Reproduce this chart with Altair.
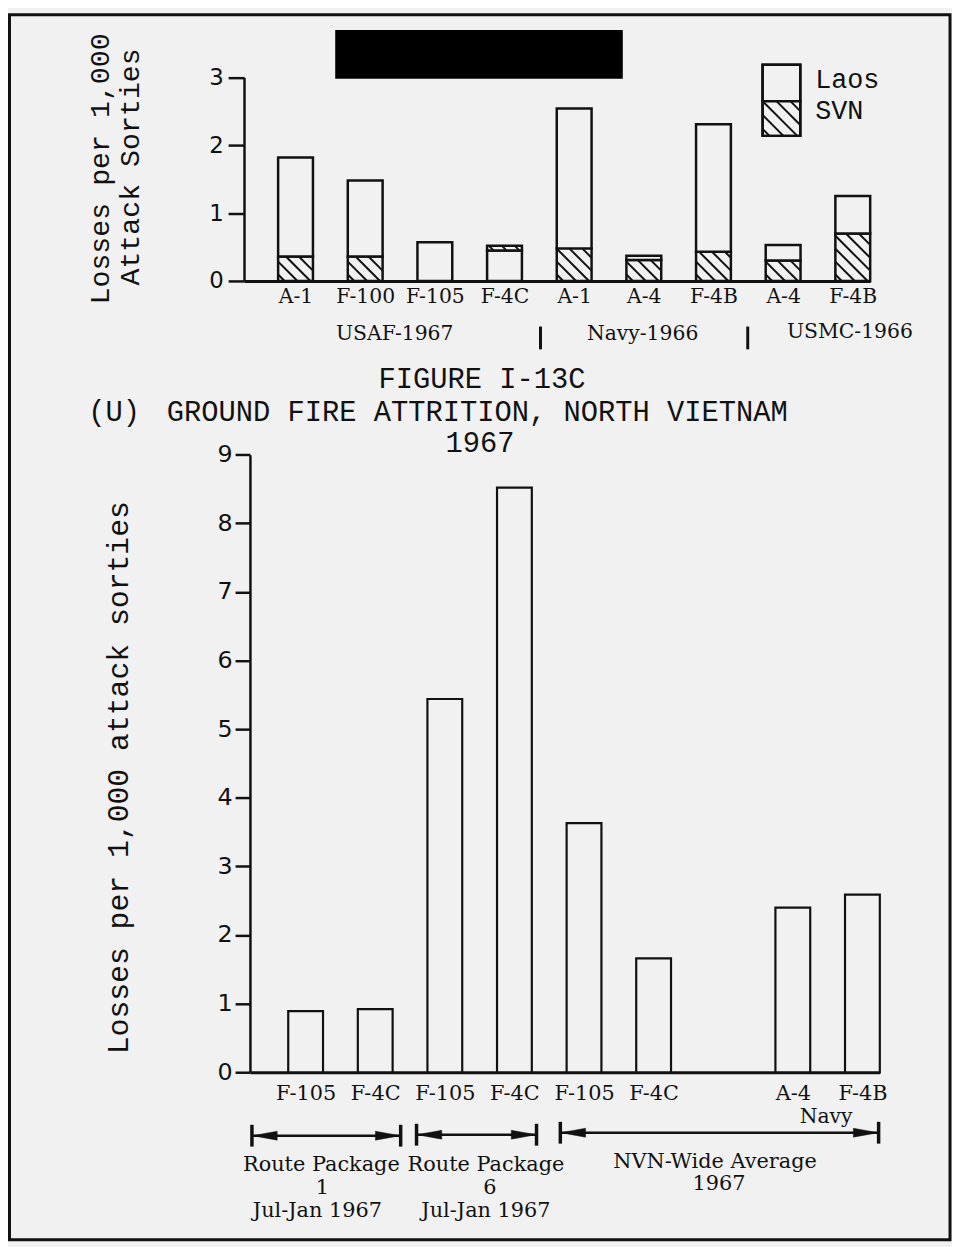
import json
import altair as alt
import pandas as pd

# ---------------- data ----------------
top_aircraft = ["A-1", "F-100", "F-105", "F-4C", "A-1", "A-4", "F-4B", "A-4", "F-4B"]
top_total = [1.82, 1.48, 0.57, 0.52, 2.54, 0.37, 2.31, 0.53, 1.25]
top_svn = [0.36, 0.36, 0.0, 0.07, 0.48, 0.31, 0.43, 0.30, 0.70]
top_svn_above = [False, False, False, True, False, False, False, False, False]
top_services = ["USAF-1967", "Navy-1966", "USMC-1966"]
top_series = ["Laos", "SVN"]

bottom_aircraft = ["F-105", "F-4C", "F-105", "F-4C", "F-105", "F-4C", "", "A-4", "F-4B"]
bottom_losses = [0.89, 0.92, 5.44, 8.52, 3.63, 1.66, None, 2.40, 2.59]
bottom_groups = [["Route Package", "1", "Jul-Jan 1967"],
                 ["Route Package", "6", "Jul-Jan 1967"],
                 ["NVN-Wide Average", "1967"]]

# ---------------- layout (chart coords = page coords - 8) ----------------
W, H = 952, 1239
BG = "#f1f1f1"
INK = "#111111"
MONO = "Liberation Mono"
SERIF = "DejaVu Serif"
SANS = "DejaVu Sans"
HALF = 0.25  # half bar width in index units

TOP_XD, TOP_XR = [-0.74, 8.25], [238, 869.5]
TOP_YD, TOP_YR = [0, 3], [270, 64.7]
BOT_XD, BOT_XR = [-0.8, 8.25], [244, 879.2]
BOT_YD, BOT_YR = [0, 9], [1068, 445.3]


def ppu(dom, rng):
    return abs(rng[1] - rng[0]) / (dom[1] - dom[0])


# ---------------- top chart data frames ----------------
rows = []
for i, (tot, svn, above) in enumerate(zip(top_total, top_svn, top_svn_above)):
    if above:
        rows.append(dict(idx=i, lo=0.0, hi=tot - svn, series=top_series[0]))
        rows.append(dict(idx=i, lo=tot - svn, hi=tot, series=top_series[1]))
    else:
        if svn > 0:
            rows.append(dict(idx=i, lo=0.0, hi=svn, series=top_series[1]))
        rows.append(dict(idx=i, lo=svn, hi=tot, series=top_series[0]))
top_df = pd.DataFrame(rows)


def hatch(x0, x1, y0, y1, px_x, px_y, spacing=13.0):
    """diagonal '\\' hatch lines clipped to a box, returned in data units"""
    w = (x1 - x0) * px_x
    h = (y1 - y0) * px_y
    segs = []
    k = spacing * 0.5
    while k < w + h:
        xa = max(0.0, k - h)
        xb = min(w, k)
        if xb > xa:
            segs.append(dict(xa=x0 + xa / px_x, ya=y0 + (k - xa) / px_y,
                             xb=x0 + xb / px_x, yb=y0 + (k - xb) / px_y))
        k += spacing
    return segs


tpx, tpy = ppu(TOP_XD, TOP_XR), ppu(TOP_YD, TOP_YR)
hrows = []
for r in rows:
    if r["series"] == top_series[1]:
        hrows += hatch(r["idx"] - HALF, r["idx"] + HALF, r["lo"], r["hi"], tpx, tpy)
top_hatch = pd.DataFrame(hrows)

bot_df = pd.DataFrame([dict(idx=i, v=v) for i, v in enumerate(bottom_losses) if v is not None])

# ---------------- scales / axes ----------------
def sc(d, r):
    return alt.Scale(domain=d, range=r, nice=False, zero=False)


top_xaxis = alt.Axis(orient="bottom", offset=TOP_YR[0] - H, values=list(range(len(top_aircraft))),
                     labelExpr=json.dumps(top_aircraft) + "[datum.value]", ticks=False, tickSize=0,
                     domainWidth=3, domainColor=INK, labelFont=SERIF, labelFontSize=20.5,
                     labelColor=INK, labelPadding=6, labelAngle=0, labelOverlap=False,
                     labelFlush=False, grid=False, title=None)
top_yaxis = alt.Axis(orient="left", offset=-TOP_XR[0], values=[0, 1, 2, 3], tickSize=16,
                     tickWidth=2.5, tickColor=INK, domainColor=INK, domainWidth=2.5,
                     labelFont=SANS, labelFontSize=23, labelColor=INK, labelPadding=5,
                     grid=False, title=None)
bot_vals = [i for i, v in enumerate(bottom_losses) if v is not None]
bot_xaxis = alt.Axis(orient="bottom", offset=BOT_YR[0] - H, values=bot_vals,
                     labelExpr=json.dumps(bottom_aircraft) + "[datum.value]", ticks=False, tickSize=0,
                     domainWidth=3, domainColor=INK, labelFont=SERIF, labelFontSize=21,
                     labelColor=INK, labelPadding=10, labelAngle=0, labelOverlap=False,
                     labelFlush=False, grid=False, title=None)
bot_yaxis = alt.Axis(orient="left", offset=-BOT_XR[0], values=list(range(10)), tickSize=15,
                     tickWidth=2.5, tickColor=INK, domainColor=INK, domainWidth=2.5,
                     labelFont=SANS, labelFontSize=24, labelColor=INK, labelPadding=3,
                     grid=False, title=None)

# ---------------- top chart ----------------
top_bars = alt.Chart(top_df).transform_calculate(
    x0=f"datum.idx - {HALF}", x1=f"datum.idx + {HALF}"
).mark_rect(fill=BG, stroke=INK, strokeWidth=2.5).encode(
    x=alt.X("x0:Q", scale=sc(TOP_XD, TOP_XR), axis=top_xaxis),
    x2="x1:Q",
    y=alt.Y("lo:Q", scale=sc(TOP_YD, TOP_YR), axis=top_yaxis),
    y2="hi:Q",
)
top_lines = alt.Chart(top_hatch).mark_rule(stroke=INK, strokeWidth=2).encode(
    x=alt.X("xa:Q", scale=sc(TOP_XD, TOP_XR), axis=None), x2="xb:Q",
    y=alt.Y("ya:Q", scale=sc(TOP_YD, TOP_YR), axis=None), y2="yb:Q",
)

# ---------------- bottom chart ----------------
bot_bars = alt.Chart(bot_df).transform_calculate(
    x0=f"datum.idx - {HALF}", x1=f"datum.idx + {HALF}"
).mark_rect(fill=BG, stroke=INK, strokeWidth=2.2).encode(
    x=alt.X("x0:Q", scale=sc(BOT_XD, BOT_XR), axis=bot_xaxis),
    x2="x1:Q",
    y=alt.Y("v:Q", scale=sc(BOT_YD, BOT_YR), axis=bot_yaxis),
    y2=alt.datum(0),
)

# ---------------- annotations ----------------
ONE = alt.Data(values=[{"k": 0}])


def txt(s, x, y, size, font, align="center", angle=0, weight="normal"):
    kw = dict(text=s, font=font, fontSize=size, align=align, baseline="middle",
              color=INK, fontWeight=weight)
    if angle:
        kw["angle"] = angle
    return alt.Chart(ONE).mark_text(**kw).encode(x=alt.value(x - 8), y=alt.value(y - 8))


def rule(x1, y1, x2, y2, w=3):
    return alt.Chart(ONE).mark_rule(stroke=INK, strokeWidth=w).encode(
        x=alt.value(x1 - 8), y=alt.value(y1 - 8), x2=alt.value(x2 - 8), y2=alt.value(y2 - 8))


def box(x1, y1, x2, y2, fill, w=2.5, stroke=INK):
    return alt.Chart(ONE).mark_rect(fill=fill, stroke=stroke, strokeWidth=w).encode(
        x=alt.value(x1 - 8), y=alt.value(y1 - 8), x2=alt.value(x2 - 8), y2=alt.value(y2 - 8))


ARROW = "M -1 0 L 1 -0.36 L 1 0.36 Z"
ARROW_R = "M 1 0 L -1 -0.36 L -1 0.36 Z"


def head(x, y, right):
    return alt.Chart(ONE).mark_point(shape=ARROW_R if right else ARROW, filled=True,
                                     fill=INK, stroke=INK, strokeWidth=0.5, opacity=1,
                                     size=620).encode(x=alt.value(x - 8), y=alt.value(y - 8))


def arrow(xl, xr, y):
    return [rule(xl, y, xr, y, 2.5), rule(xl, y - 11, xl, y + 11, 3.5), rule(xr, y - 11, xr, y + 11, 3.5),
            head(xl + 13, y, False), head(xr - 13, y, True)]


ann = []
# redaction block
ann.append(box(338, 25, 628, 74, "#000000", 0))
# top y title
ann.append(txt("Losses per 1,000", 101, 165, 28.5, MONO, angle=270))
ann.append(txt("Attack Sorties", 131, 163, 28.5, MONO, angle=270))
# legend
ann.append(box(769, 60, 807, 96.7, BG))
ann.append(box(769, 96.7, 807, 131.7, BG))
leg_h = hatch(769, 807, 0, 35, 1, 1, 14.0)
for s in leg_h:
    ann.append(rule(s["xa"], 131.7 - s["ya"], s["xb"], 131.7 - s["yb"], 2))
ann.append(box(769, 60, 807, 131.7, "transparent"))
ann.append(txt(top_series[0], 822, 75, 27, MONO, align="left"))
ann.append(txt(top_series[1], 822, 107, 27, MONO, align="left"))
# service group labels
ann.append(txt(top_services[0], 398, 332, 20.5, SERIF))
ann.append(rule(545, 324, 545, 347, 3))
ann.append(txt(top_services[1], 648, 332, 20.5, SERIF))
ann.append(rule(754, 324, 754, 347, 3))
ann.append(txt(top_services[2], 857, 330, 20.5, SERIF))
# figure title
ann.append(txt("FIGURE I-13C", 486, 377, 29, MONO))
ann.append(txt("(U)", 115, 410, 29, MONO))
ann.append(txt("GROUND FIRE ATTRITION, NORTH VIETNAM", 168, 410, 29, MONO, align="left"))
ann.append(txt("1967", 484, 442, 29, MONO))
# bottom y title
ann.append(txt("Losses per 1,000 attack sorties", 120, 779, 30, MONO, angle=270))
# bottom group arrows and labels
ann += arrow(254, 404, 1140)
ann += arrow(420, 541, 1139)
ann += arrow(565, 886, 1137)
ann.append(txt("Navy", 833, 1121, 20.5, SERIF))
ann.append(txt(bottom_groups[0][0], 324, 1170, 21, SERIF))
ann.append(txt(bottom_groups[0][1], 325, 1193, 21, SERIF))
ann.append(txt(bottom_groups[0][2], 320, 1216, 21, SERIF))
ann.append(txt(bottom_groups[1][0], 490, 1170, 21, SERIF))
ann.append(txt(bottom_groups[1][1], 494, 1193, 21, SERIF))
ann.append(txt(bottom_groups[1][2], 490, 1216, 21, SERIF))
ann.append(txt(bottom_groups[2][0], 721, 1167, 21, SERIF))
ann.append(txt(bottom_groups[2][1], 725, 1189, 21, SERIF))
# page frame
ann.append(box(9.5, 9.5, 958, 1245, "transparent", 3))

chart = alt.layer(top_bars, top_lines, bot_bars, *ann).resolve_scale(
    x="independent", y="independent"
).resolve_axis(x="independent", y="independent").properties(
    width=W, height=H, autosize=alt.AutoSizeParams(type="none"), padding=0,
    background=BG,
).configure_view(strokeWidth=0)

chart.save("out.html", embed_options={"renderer": "svg", "actions": False})
